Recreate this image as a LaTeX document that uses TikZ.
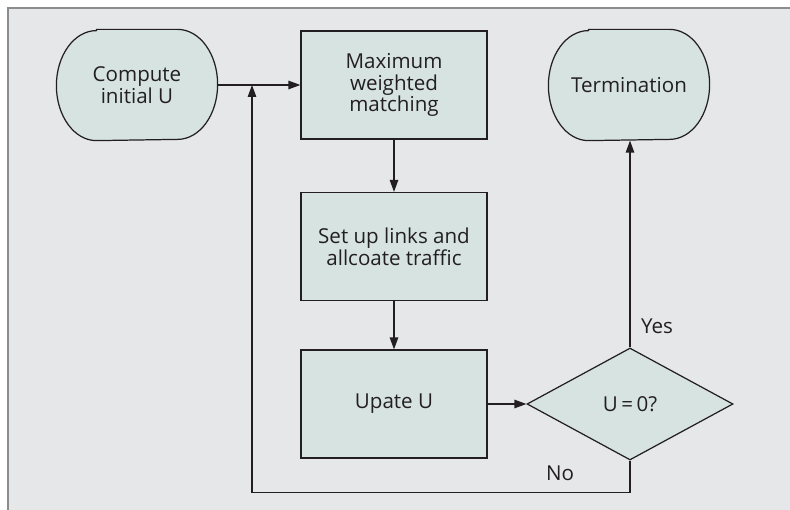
\documentclass[tikz,border=0pt]{standalone}
\usepackage{fontspec}
\setmainfont{Open Sans}
\usepackage{xcolor}
\usetikzlibrary{arrows.meta, positioning, shapes.geometric, backgrounds}
\definecolor{panelgray}{HTML}{E6E7E9}
\definecolor{framegray}{HTML}{8C8C8C}
\definecolor{boxfill}{HTML}{D6E3E1}
\definecolor{ink}{HTML}{231F20}
\tikzset{
  blk/.style={draw=ink, line width=0.7pt, fill=boxfill, align=center, text=ink,
              font=\fontsize{11.7}{12.4}\selectfont, inner sep=2pt},
  procb/.style={blk, rectangle, minimum width=3.72cm, minimum height=2.16cm},
  termb/.style={blk, draw=none, fill=none, rectangle, minimum width=3.2cm, minimum height=2.2cm},
  testb/.style={blk, diamond, minimum width=4.12cm, minimum height=2.24cm, inner sep=0pt},
  flow/.style={-{Triangle[length=2.4mm, width=1.7mm]}, line width=0.7pt, draw=ink},
  edgelbl/.style={font=\fontsize{11.7}{12.4}\selectfont, text=ink},
}

\begin{document}
\begin{tikzpicture}
  \useasboundingbox (0,0) rectangle (15.8,-10.2);

  \node[termb] (init)  at (2.74,-1.70)  {Compute\\initial U};
  \node[procb] (match) at (7.88,-1.70)  {Maximum\\weighted\\matching};
  \node[termb] (term)  at (12.58,-1.70) {Termination};
  \node[procb] (links) at (7.88,-4.93)  {Set up links and\\allcoate traffic};
  \node[procb] (upd)   at (7.88,-8.08)  {Upate U};
  \node[testb] (test)  at (12.60,-8.08) {U\,=\,0?};
  \coordinate (join) at (5.04,-1.70);

  % panel and the oval start/end boxes go underneath
  \begin{scope}[on background layer]
    \draw[framegray, line width=0.8pt, fill=panelgray] (0.16,-0.16) rectangle (16.2,-10.6);
    \foreach \n in {init, term}
      \draw[ink, line width=0.7pt, fill=boxfill]
        ([xshift=0.8cm]\n.north west) -- ([xshift=-0.8cm]\n.north east)
        arc[start angle=90, end angle=-90, x radius=0.8cm, y radius=1.1cm]
        -- ([xshift=0.8cm]\n.south west)
        arc[start angle=270, end angle=90, x radius=0.8cm, y radius=1.1cm] -- cycle;
  \end{scope}

  \draw[flow] (init) -- (match);
  \draw[flow] (match) -- (links);
  \draw[flow] (links) -- (upd);
  \draw[flow] (upd) -- (test);
  \draw[flow] (test.north) -- (test.north |- term.south);
  \draw[flow] (test.south) -- ++(0,-0.64) -| (join);

  \node[edgelbl] (yes) at (13.14,-6.52) {Yes};
  \node[edgelbl] (no)  at (11.20,-9.46) {No};
\end{tikzpicture}
\end{document}
